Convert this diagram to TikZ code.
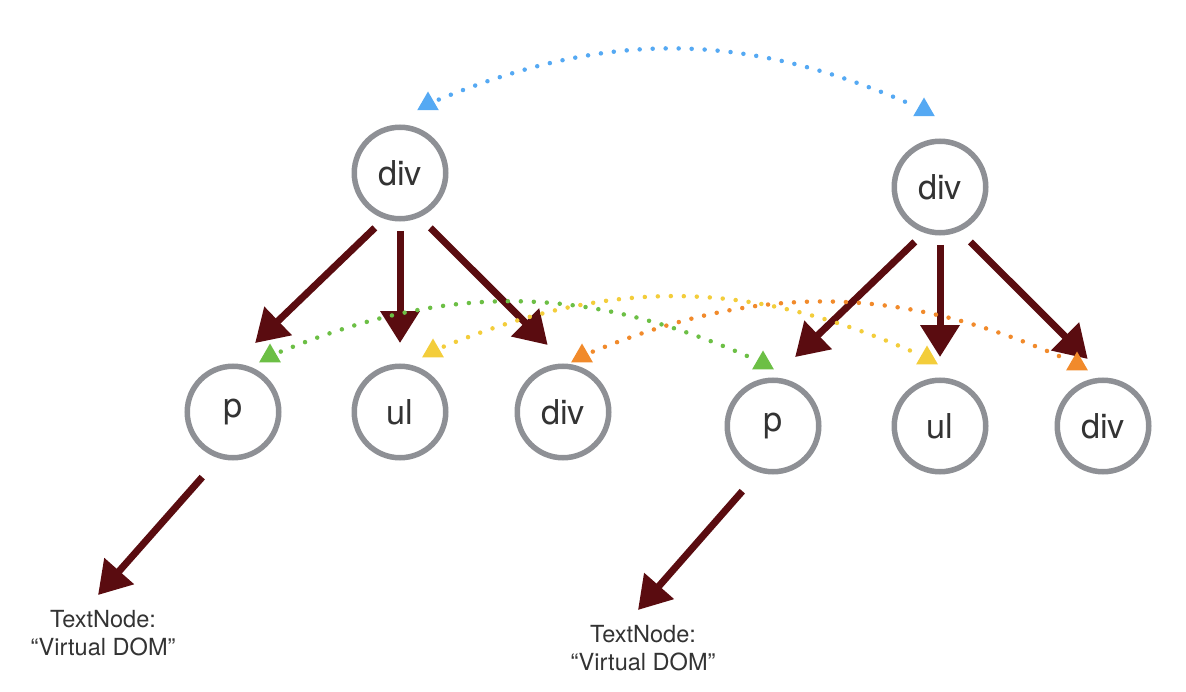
\documentclass[tikz,border=0pt]{standalone}
\usepackage{fontspec}
\setmainfont{TeX Gyre Heros}
\usetikzlibrary{arrows.meta,shapes.geometric}
\newlength{\pix}
\setlength{\pix}{0.02cm}
\definecolor{nodegray}{HTML}{8E9095}
\definecolor{treered}{HTML}{5A0C10}
\definecolor{linkblue}{HTML}{55A9F3}
\definecolor{linkgreen}{HTML}{6CBF45}
\definecolor{linkyellow}{HTML}{F3CD3B}
\definecolor{linkorange}{HTML}{F18A2B}

\begin{document}
\begin{tikzpicture}[x=1\pix, y=-1\pix,
	elem/.style={circle, draw=nodegray, line width=5.5\pix, minimum size=91.5\pix, inner sep=0pt, text=black!80, font=\fontsize{19.5}{22}\selectfont},
	txt/.style={anchor=north, align=center, inner sep=0pt, text=black!80, font=\fontsize{13.4}{15.9}\selectfont},
	child/.style={draw=treered, line width=7\pix, -{Triangle[width=0.76cm, length=0.64cm]}},
	tri/.style={regular polygon, regular polygon sides=3, fill=#1, minimum size=25\pix, inner sep=0pt},
	link/.style={draw=#1, line width=4.5\pix, line cap=round, dash pattern=on 0pt off 13\pix, shorten <=5\pix, shorten >=5\pix}]
			%%%%% START %%%%%
			
			\useasboundingbox (0,0) rectangle (1186,692);
			
			% old tree
			\node[elem] (div1) at (400,173) {div};
			\node[elem] (p1) at (233,412) {p};
			\node[elem] (ul1) at (400,412) {ul};
			\node[elem] (div3) at (563,412) {div};
			\node[txt] (tn1) at (103,610) {TextNode:\\“Virtual DOM”};
			
			% new tree
			\node[elem] (div2) at (940,187) {div};
			\node[elem] (p2) at (773,426) {p};
			\node[elem] (ul2) at (940,426) {ul};
			\node[elem] (div4) at (1103,426) {div};
			\node[txt] (tn2) at (643,625) {TextNode:\\“Virtual DOM”};
			
			\draw[child, shorten <=13\pix, shorten >=29.5\pix] (div1.251) -- (p1.89);
			\draw[child, shorten <=9.5\pix, shorten >=20.5\pix] (div1.270) -- (ul1.90);
			\draw[child, shorten <=15\pix, shorten >=26.4\pix] (div1.294) -- (div3.86);
			\draw[child, shorten <=25\pix, shorten >=20\pix] (p1.253) -- ([xshift=-18.2\pix]tn1.north);
			
			\draw[child, shorten <=13\pix, shorten >=29.5\pix] (div2.251) -- (p2.89);
			\draw[child, shorten <=9.5\pix, shorten >=20.5\pix] (div2.270) -- (ul2.90);
			\draw[child, shorten <=15\pix, shorten >=26.4\pix] (div2.294) -- (div4.86);
			\draw[child, shorten <=25\pix, shorten >=20\pix] (p2.253) -- ([xshift=-18.2\pix]tn2.north);
			
			% diff links
			\node[tri=linkblue] (bl) at (428,104) {};
			\node[tri=linkblue] (br) at (924,110) {};
			\node[tri=linkgreen] (gl) at (270,356) {};
			\node[tri=linkgreen] (gr) at (763,363) {};
			\node[tri=linkyellow] (yl) at (433,351) {};
			\node[tri=linkyellow] (yr) at (927,358) {};
			\node[tri=linkorange] (ol) at (582,356) {};
			\node[tri=linkorange] (or) at (1077,364) {};
			
			\draw[link=linkblue] (bl) to[bend left=23] (br);
			\draw[link=linkgreen] (gl) to[bend left=23] (gr);
			\draw[link=linkyellow] (yl) to[bend left=23] (yr);
			\draw[link=linkorange] (ol) to[bend left=23] (or);
			
			%%%%% END %%%%%
\end{tikzpicture}
\end{document}
